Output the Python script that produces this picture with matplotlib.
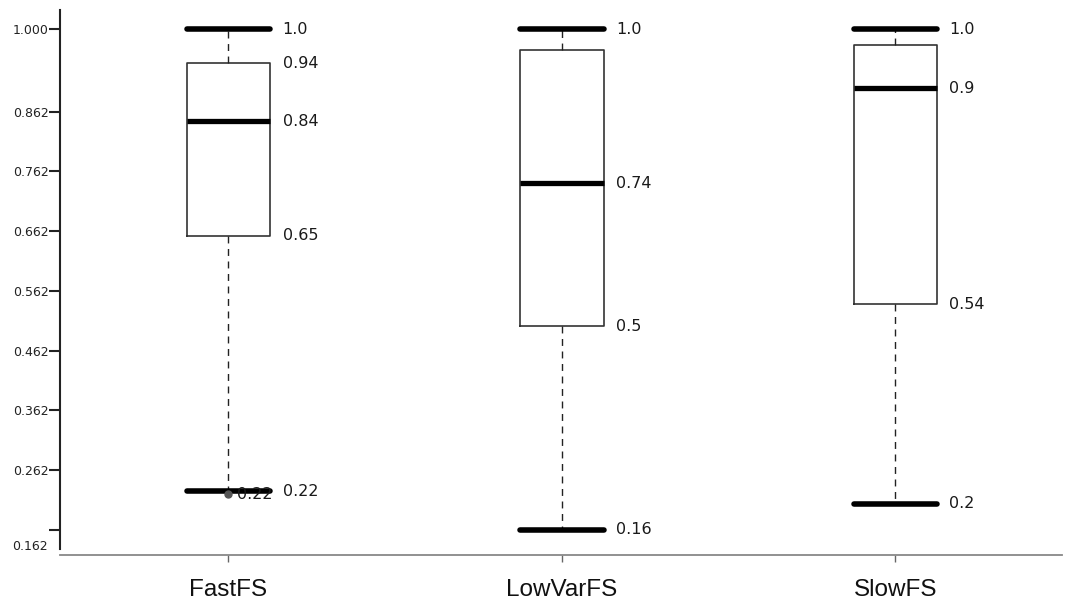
import matplotlib
matplotlib.use("Agg")
import matplotlib.pyplot as plt

# data
categories = ['FastFS', 'LowVarFS', 'SlowFS']
whislo = [0.227, 0.162, 0.206]
q1 = [0.654, 0.503, 0.540]
med = [0.846, 0.742, 0.901]
q3 = [0.943, 0.965, 0.973]
whishi = [1.0, 1.0, 1.0]
fliers = [[0.222], [], []]

# value annotations next to each box
ann_values = [[1.0, 0.943, 0.846, 0.654, 0.227],
              [1.0, 0.742, 0.503, 0.162],
              [1.0, 0.901, 0.540, 0.206]]
ann_texts = [['1.0', '0.94', '0.84', '0.65', '0.22'],
             ['1.0', '0.74', '0.5', '0.16'],
             ['1.0', '0.9', '0.54', '0.2']]
flier_texts = [['0.22'], [], []]

ytick_vals = [0.162, 0.262, 0.362, 0.462, 0.562, 0.662, 0.762, 0.862, 1.0]
ytick_labels = ['0.162', '0.262', '0.362', '0.462', '0.562', '0.662', '0.762', '0.862', '1.000']

W, H = 1065, 607
fig = plt.figure(figsize=(W / 100, H / 100), dpi=100)
ax = fig.add_axes([60 / W, 1 - 555 / H, (1062 - 60) / W, (555 - 10) / H])

for s in ['top', 'right']:
    ax.spines[s].set_visible(False)
ax.spines['left'].set_linewidth(1.5)
ax.spines['left'].set_color('#222222')
ax.spines['bottom'].set_color('#888888')
ax.spines['bottom'].set_linewidth(1.3)

positions = list(range(1, len(categories) + 1))
stats = []
for i, name in enumerate(categories):
    stats.append(dict(label=name, whislo=whislo[i], q1=q1[i], med=med[i],
                      q3=q3[i], whishi=whishi[i], fliers=fliers[i]))

ax.bxp(stats, positions=positions, widths=0.25, showfliers=True,
       boxprops=dict(color='#333333', linewidth=1.2),
       whiskerprops=dict(color='#222222', linewidth=1.0, linestyle=(0, (5, 4))),
       capprops=dict(color='black', linewidth=4, solid_capstyle='round'),
       capwidths=0.25,
       medianprops=dict(color='black', linewidth=3.8),
       flierprops=dict(marker='o', markerfacecolor='#555555', markeredgecolor='#555555',
                       markersize=5))

for i, p in enumerate(positions):
    for v, t in zip(ann_values[i], ann_texts[i]):
        ax.annotate(t, xy=(p + 0.125, v), xytext=(9, 0), textcoords='offset points',
                    va='center', ha='left', fontsize=11.5, color='#1a1a1a',
                    family='DejaVu Sans')
    for v, t in zip(fliers[i], flier_texts[i]):
        ax.annotate(t, xy=(p, v), xytext=(6, 0), textcoords='offset points',
                    va='center', ha='left', fontsize=11.5, color='#1a1a1a',
                    family='DejaVu Sans')

ax.set_xlim(0.495, 3.5)
ax.set_ylim(0.12, 1.032)
ax.spines['left'].set_bounds(0.130, 1.032)

ax.set_yticks(ytick_vals)
ax.set_yticklabels([''] + ytick_labels[1:], fontsize=9, color='#222222')
# the lowest label sits below its tick in the reference
ax.annotate(ytick_labels[0], xy=(0, ytick_vals[0]), xycoords=('axes fraction', 'data'),
            xytext=(-9, -12), textcoords='offset points', ha='right', va='center',
            fontsize=9, color='#222222', annotation_clip=False)
ax.tick_params(axis='y', direction='out', length=8, width=1.5, pad=0, color='#222222')

ax.set_xticks(positions)
ax.set_xticklabels(categories, fontsize=17.5, family='Liberation Sans', color='#111111')
ax.tick_params(axis='x', direction='out', length=5, width=1, pad=12, color='#666666')

fig.savefig('out.png', dpi=100)
